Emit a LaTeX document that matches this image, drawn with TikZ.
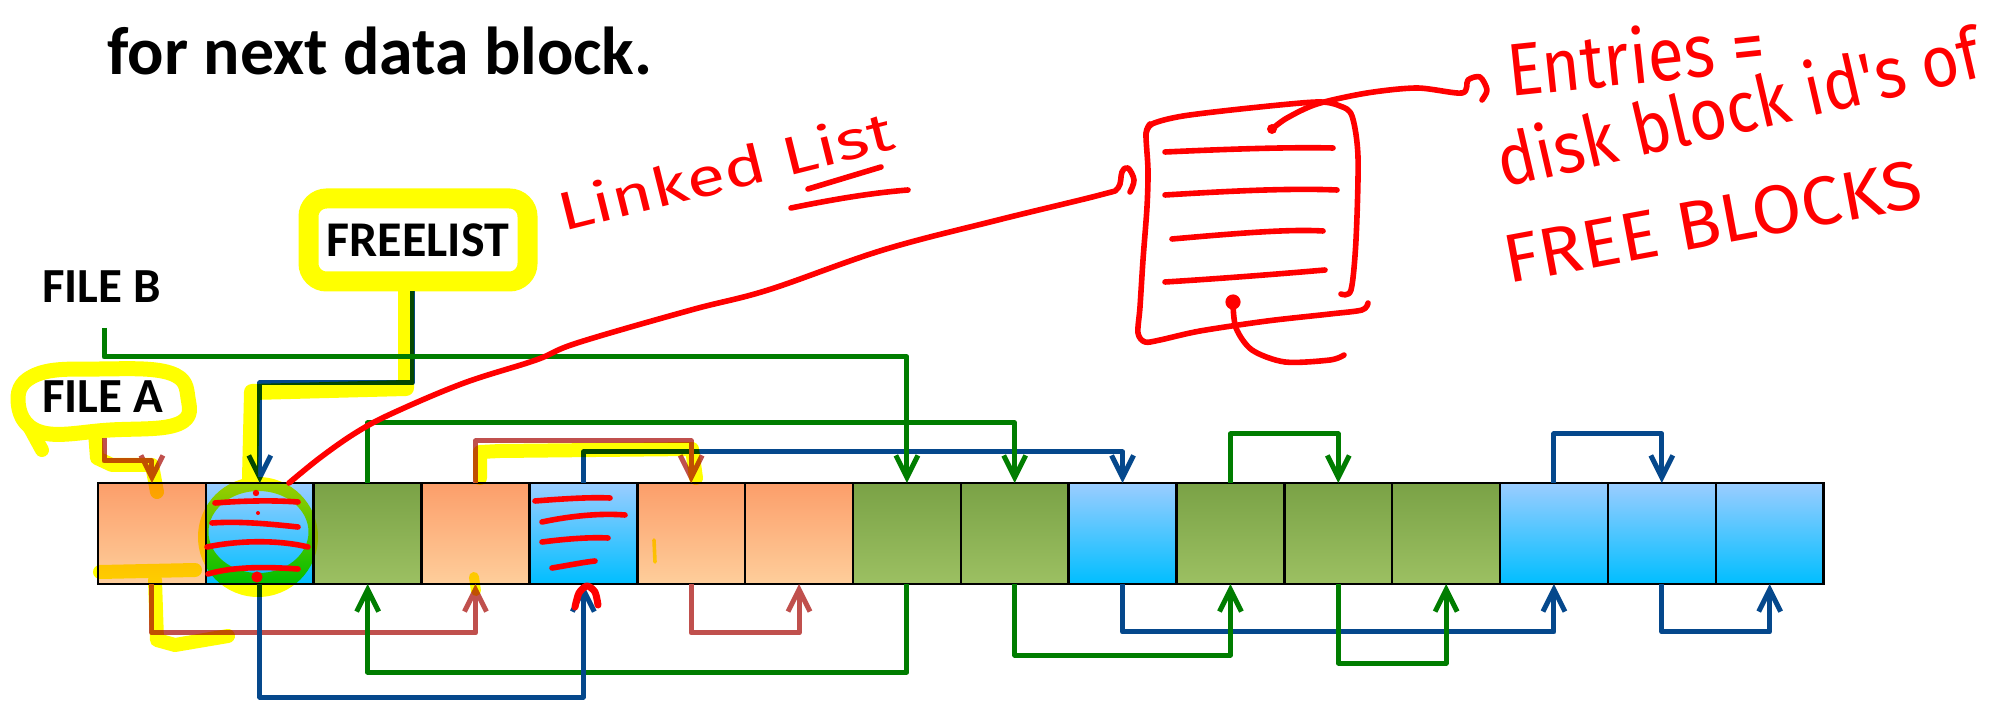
\documentclass[tikz,border=0pt]{standalone}
\usepackage{fontspec}
\setmainfont{Carlito}
\newfontfamily\hand{Fira Sans}
\usetikzlibrary{arrows.meta,calc}
\definecolor{cgreen}{RGB}{0,125,0}
\definecolor{cblue}{RGB}{5,72,140}
\definecolor{cred}{RGB}{192,80,77}
\definecolor{orT}{RGB}{252,158,106}
\definecolor{orB}{RGB}{254,206,155}
\definecolor{grT}{RGB}{122,162,70}
\definecolor{grB}{RGB}{156,192,98}
\definecolor{blT}{RGB}{155,205,255}
\definecolor{blB}{RGB}{0,190,255}
\definecolor{hlyel}{RGB}{255,255,0}
\definecolor{pen}{RGB}{255,0,0}
\tikzset{
  blk/.style={draw=black, line width=1.25pt, minimum width=53.925pt, minimum height=50.5pt, inner sep=0pt, outer sep=0pt},
  orblk/.style={blk, top color=orT, bottom color=orB},
  grblk/.style={blk, top color=grT, bottom color=grB},
  blblk/.style={blk, top color=blT, bottom color=blB},
  conn/.style={line width=2.5pt, line join=round, -{Straight Barb[length=11pt,width=11pt]}},
  gconn/.style={conn, draw=cgreen},
  bconn/.style={conn, draw=cblue},
  rconn/.style={conn, draw=cred},
  hl/.style={draw=hlyel, line cap=round, line join=round, line width=7pt, blend mode=multiply},
  ink/.style={draw=pen, line width=2.8pt, line cap=round, line join=round},
  lab/.style={font=\bfseries\fontsize{24.5}{29}\selectfont, inner sep=0pt, anchor=base west},
  ttl/.style={font=\bfseries\fontsize{33.9}{40}\selectfont, inner sep=0pt, anchor=base west},
  hw/.style={text=pen, inner sep=0pt, anchor=base west, font=\hand},
}
\begin{document}
\begin{tikzpicture}[x=0.5pt,y=-0.5pt]
\useasboundingbox (0,0) rectangle (2004,705);
\fill[white] (0,0) rectangle (2004,705);
\clip (0,0) rectangle (2004,705);

% title
\node[ttl] (prev) at (577,-11) {pping};
\node[ttl] (title) at (107,75) {for next data block.};

% blocks
\foreach \i/\s in {1/orblk,2/blblk,3/grblk,4/orblk,5/blblk,6/orblk,7/orblk,8/grblk,9/grblk,10/blblk,11/grblk,12/grblk,13/grblk,14/blblk,15/blblk,16/blblk}
  \node[\s] (b\i) at ({98+107.85*(\i-0.5)},533.5) {};

% labels
\node[lab] (fileb) at (42,303) {FILE B};
\node[lab] (filea) at (42,413) {FILE A};
\node[draw=hlyel, line width=10pt, fill=white, rounded corners=9pt, minimum width=109.5pt, minimum height=41.5pt, inner sep=0pt, font=\bfseries\fontsize{25}{30}\selectfont] (fl) at (418,240) {FREELIST};
\coordinate (fa) at (104,438);
\coordinate (fb) at (104,328);

% connectors
\draw[bconn] (b5.north) -- ++(0,-31) -| (b10.north);
\draw[bconn] (b14.north) -- ++(0,-49) -| (b15.north);
\draw[bconn] (b10.south) -- ++(0,48) -| (b14.south);
\draw[bconn] (b15.south) -- ++(0,48) -| (b16.south);
\draw[bconn] ([xshift=-3pt]fl.south) |- ([yshift=50pt]b2.north) -- (b2.north);
\draw[rconn] (fa) |- ([yshift=11pt]b1.north) -- (b1.north);
\draw[rconn] (b4.north) -- ++(0,-42) -| (b6.north);
\draw[rconn] (b1.south) -- ++(0,49) -| (b4.south);
\draw[rconn] (b6.south) -- ++(0,49) -| (b7.south);
\draw[gconn] (fb) |- ([yshift=63pt]b8.north) -- (b8.north);
\draw[gconn] (b3.north) -- ++(0,-60) -| (b9.north);
\draw[gconn] (b11.north) -- ++(0,-49) -| (b12.north);
\draw[gconn] (b8.south) -- ++(0,88) -| (b3.south);
\draw[gconn] (b9.south) -- ++(0,71) -| (b11.south);
\draw[gconn] (b12.south) -- ++(0,79) -| (b13.south);
\draw[bconn] (b2.south) -- ++(0,113) -| (b5.south);

% yellow highlighter
\draw[hl, line width=7.5pt] plot[smooth cycle, tension=0.7] coordinates {(18,400) (38,374) (100,369) (170,373) (188,398) (178,424) (110,430) (40,432)};
\draw[hl] (30,428) -- (42,450);
\draw[hl] (95,432) -- (97,458) -- (112,465) -- (152,465) -- (157,492);
\draw[hl, line width=8pt] (406,290) -- (406,388) -- (252,392) -- (250,478);
\fill[hlyel, blend mode=multiply, even odd rule] (258,537) ellipse [x radius=30pt, y radius=30pt] (258.5,532) ellipse [x radius=25pt, y radius=20.5pt];
\draw[hl] (480,478) -- (480,452) -- (500,451) -- (692,449) -- (696,478);
\draw[hl] (100,572) -- (195,570);
\draw[hl] (155,580) -- (157,640) -- (175,645) -- (228,636);
\draw[hl, line width=5pt] (474,577) -- (476,591);
\draw[hl, line width=1.8pt] (654,540) -- (655,562);

% red handwriting
\draw[ink] plot[smooth, tension=0.6] coordinates {(289,483) (321,457) (357,432) (393,413) (464,383) (536,360) (577,343) (691,310) (768,290) (883,250) (998,220) (1100,195) (1118,188) (1122,172) (1128,168) (1134,180) (1130,192)};
\node[hw, rotate=14] (ll) at (563,232) {\resizebox{172pt}{21pt}{Linked List}};
\draw[ink] (808,189) -- (881,167);
\draw[ink] (791,208) .. controls (830,200) and (870,193) .. (908,190);

\draw[ink] plot[smooth, tension=0.5] coordinates {(1150,124) (1146,134) (1148,170) (1147,207) (1143,260) (1140,307) (1138,333) (1145,342) (1160,340) (1200,331) (1267,321) (1330,314) (1362,310) (1368,303)};
\draw[ink] plot[smooth, tension=0.5] coordinates {(1146,134) (1152,124) (1183,116) (1250,108) (1317,102) (1340,106) (1352,116) (1358,157) (1356,240) (1351,290) (1341,294)};
\draw[ink] (1165,152) .. controls (1230,149) and (1290,147) .. (1333,148);
\draw[ink] (1165,195) .. controls (1230,191) and (1290,188) .. (1337,190);
\draw[ink] (1172,239) .. controls (1240,233) and (1290,229) .. (1323,231);
\draw[ink] (1165,282) .. controls (1230,278) and (1290,273) .. (1325,270);
\fill[pen] (1233,302) circle (3.8pt);
\draw[ink] plot[smooth] coordinates {(1233,303) (1236,328) (1252,350) (1285,362) (1330,360) (1344,355)};
\draw[ink] plot[smooth] coordinates {(1272,129) (1287,118) (1317,104) (1367,93) (1417,88) (1462,93) (1468,80) (1480,77) (1487,90) (1482,100)};
\fill[pen] (1272,129) circle (2.5pt);

\node[hw, rotate=6] (en) at (1510,97) {\resizebox{129pt}{29pt}{Entries =}};
\node[hw, rotate=13] (dk) at (1503,188) {\resizebox{247pt}{28pt}{disk block id's of}};
\node[hw, rotate=10.5] (fr) at (1508,284) {\resizebox{212pt}{24pt}{FREE BLOCKS}};

% scribbles in free blocks
\draw[ink] (215,503) .. controls (240,501) and (270,500) .. (298,502);
\draw[ink] (212,523) .. controls (240,521) and (270,524) .. (298,527);
\draw[ink] (207,547) .. controls (240,540) and (280,540) .. (308,547);
\draw[ink] (208,574) .. controls (235,566) and (270,567) .. (298,569);
\fill[pen] (256,493) circle (1.6pt);
\fill[pen] (258,513) circle (1pt);
\fill[pen] (257,577) circle (2.8pt);
\draw[ink] (535,501) .. controls (560,499) and (590,497) .. (610,498);
\draw[ink] (542,522) .. controls (570,516) and (600,513) .. (625,515);
\draw[ink] (542,542) .. controls (565,539) and (590,537) .. (608,538);
\draw[ink] (552,568) .. controls (570,565) and (585,562) .. (595,561);
\draw[ink, line width=3.5pt] plot[smooth] coordinates {(575,607) (579,593) (587,586) (595,592) (598,605)};
\end{tikzpicture}
\end{document}
